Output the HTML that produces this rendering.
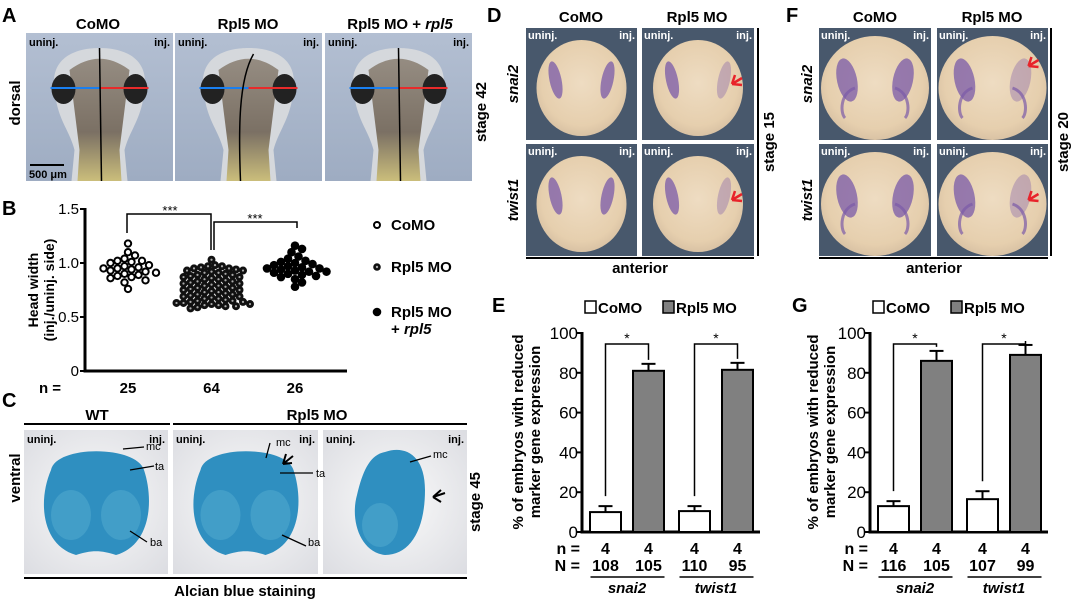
<!DOCTYPE html>
<html><head><meta charset="utf-8"><style>
html,body{margin:0;padding:0;background:#fff;}
svg{display:block;font-family:"Liberation Sans",Arial,sans-serif;}
.b{font-weight:bold;}
</style></head><body>
<svg id="fig" width="1072" height="599" viewBox="0 0 1072 599" xmlns="http://www.w3.org/2000/svg">
<defs>
<radialGradient id="embD" cx="50%" cy="45%" r="55%"><stop offset="0" stop-color="#eedcc2"/><stop offset="0.8" stop-color="#e6cfae"/><stop offset="1" stop-color="#d9c2a4"/></radialGradient>
<linearGradient id="tadBg" x1="0" y1="0" x2="0" y2="1"><stop offset="0" stop-color="#b3bfd2"/><stop offset="1" stop-color="#9eacc2"/></linearGradient>
<radialGradient id="cBg" cx="50%" cy="50%" r="70%"><stop offset="0" stop-color="#fafafa"/><stop offset="1" stop-color="#dcdde2"/></radialGradient>
<linearGradient id="body" x1="0" y1="0" x2="0" y2="1"><stop offset="0" stop-color="#8a7f72"/><stop offset="0.6" stop-color="#6b5e4f"/><stop offset="1" stop-color="#c9b96a"/></linearGradient>
</defs>

<g>
<text class="b" x="2" y="22" font-size="20">A</text>
<text class="b" x="98" y="29" font-size="15" text-anchor="middle">CoMO</text>
<text class="b" x="248" y="29" font-size="15" text-anchor="middle">Rpl5 MO</text>
<text class="b" x="400" y="29" font-size="15" text-anchor="middle">Rpl5 MO + <tspan font-style="italic">rpl5</tspan></text>
<text class="b" x="20" y="103" font-size="15" text-anchor="middle" transform="rotate(-90 20 103)">dorsal</text>
<text class="b" x="486" y="112" font-size="15" text-anchor="middle" transform="rotate(-90 486 112)">stage 42</text>
<g id="aPhotos"></g>
</g>

<g>
<text class="b" x="2" y="215" font-size="20">B</text>
<g id="bChart"></g>
</g>

<g>
<text class="b" x="2" y="407" font-size="20">C</text>
<text class="b" x="97" y="420" font-size="15" text-anchor="middle">WT</text>
<text class="b" x="317" y="420" font-size="15" text-anchor="middle">Rpl5 MO</text>
<line x1="24" y1="424" x2="170" y2="424" stroke="#000" stroke-width="2"/>
<line x1="173" y1="424" x2="467" y2="424" stroke="#000" stroke-width="2"/>
<line x1="24" y1="578" x2="467" y2="578" stroke="#000" stroke-width="2"/>
<text class="b" x="245" y="596" font-size="15" text-anchor="middle">Alcian blue staining</text>
<text class="b" x="20" y="478" font-size="15" text-anchor="middle" transform="rotate(-90 20 478)">ventral</text>
<text class="b" x="480" y="502" font-size="15" text-anchor="middle" transform="rotate(-90 480 502)">stage 45</text>
<g id="cPhotos"></g>
</g>

<g>
<text class="b" x="487" y="22" font-size="20">D</text>
<text class="b" x="581" y="22" font-size="15" text-anchor="middle">CoMO</text>
<text class="b" x="697" y="22" font-size="15" text-anchor="middle">Rpl5 MO</text>
<text class="b" x="640" y="273" font-size="15" text-anchor="middle">anterior</text>
<line x1="526" y1="258" x2="754" y2="258" stroke="#000" stroke-width="2"/>
<line x1="758" y1="28" x2="758" y2="256" stroke="#000" stroke-width="2"/>
<text class="b" x="774" y="142" font-size="15" text-anchor="middle" transform="rotate(-90 774 142)">stage 15</text>
<text class="b" x="518" y="84" font-size="15" text-anchor="middle" font-style="italic" transform="rotate(-90 518 84)">snai2</text>
<text class="b" x="518" y="200" font-size="15" text-anchor="middle" font-style="italic" transform="rotate(-90 518 200)">twist1</text>
</g>
<g>
<text class="b" x="786" y="22" font-size="20">F</text>
<text class="b" x="875" y="22" font-size="15" text-anchor="middle">CoMO</text>
<text class="b" x="992" y="22" font-size="15" text-anchor="middle">Rpl5 MO</text>
<text class="b" x="934" y="273" font-size="15" text-anchor="middle">anterior</text>
<line x1="819" y1="258" x2="1048" y2="258" stroke="#000" stroke-width="2"/>
<line x1="1051" y1="28" x2="1051" y2="256" stroke="#000" stroke-width="2"/>
<text class="b" x="1068" y="142" font-size="15" text-anchor="middle" transform="rotate(-90 1068 142)">stage 20</text>
<text class="b" x="812" y="84" font-size="15" text-anchor="middle" font-style="italic" transform="rotate(-90 812 84)">snai2</text>
<text class="b" x="812" y="200" font-size="15" text-anchor="middle" font-style="italic" transform="rotate(-90 812 200)">twist1</text>
</g>
<g id="dfPhotos"></g>

<text class="b" x="492" y="312" font-size="20">E</text>
<text class="b" x="792" y="312" font-size="20">G</text>
<g id="eChart"></g>
<g id="gChart"></g>
</svg>

<script>
// ---------- Panel B data (head width ratio) ----------
const bGroups = ["CoMO", "Rpl5 MO", "Rpl5 MO + rpl5"];
const bCounts = ["25", "64", "26"];
const bYTicks = [0, 0.5, 1.0, 1.5];
const bYTickLabels = ["0", "0.5", "1.0", "1.5"];
const bCoMO = [1.18,1.10,1.07,1.04,1.02,1.02,1.01,1.00,0.98,0.97,0.96,0.95,0.95,0.94,0.93,0.92,0.91,0.90,0.89,0.88,0.87,0.86,0.84,0.82,0.76];
const bRpl5 = [1.03,0.98,0.97,0.97,0.96,0.95,0.95,0.94,0.93,0.93,0.92,0.91,0.91,0.90,0.89,0.89,0.88,0.87,0.87,0.86,0.85,0.85,0.84,0.83,0.83,0.82,0.81,0.81,0.80,0.79,0.79,0.78,0.77,0.77,0.76,0.75,0.75,0.74,0.73,0.73,0.72,0.71,0.71,0.70,0.69,0.69,0.68,0.67,0.67,0.66,0.65,0.65,0.64,0.64,0.63,0.63,0.62,0.62,0.61,0.61,0.60,0.60,0.59,0.58];
const bRescue = [1.16,1.13,1.10,1.06,1.04,1.02,1.01,1.00,0.99,0.98,0.97,0.96,0.95,0.95,0.94,0.93,0.92,0.92,0.91,0.90,0.89,0.88,0.87,0.85,0.82,0.78];

// ---------- Panel E data ----------
const eGenes = ["snai2", "twist1"];
const eCoMO = [10, 10.5];
const eCoMOErr = [3, 2.5];
const eRpl5 = [81, 81.5];
const eRpl5Err = [3.5, 3.5];
const eNn = ["4","4","4","4"];
const eNN = ["108","105","110","95"];
// ---------- Panel G data ----------
const gGenes = ["snai2", "twist1"];
const gCoMO = [13, 16.5];
const gCoMOErr = [2.5, 4];
const gRpl5 = [86, 89];
const gRpl5Err = [5, 5];
const gNn = ["4","4","4","4"];
const gNN = ["116","105","107","99"];
const pctTicks = [0, 20, 40, 60, 80, 100];

const NS = "http://www.w3.org/2000/svg";
function mk(tag, attrs, parent, txt) {
  const e = document.createElementNS(NS, tag);
  for (const k in attrs) e.setAttribute(k, attrs[k]);
  if (txt !== undefined) e.textContent = txt;
  parent.appendChild(e);
  return e;
}

(function(){
  const g = document.getElementById('aPhotos');
  const xs = [26, 175, 325], w = [147, 147, 147];
  const curve = [false, true, false];
  xs.forEach((x, i) => {
    const ph = mk('g', {}, g);
    
    
    mk('rect', {x:x, y:33, width:w[i], height:148, fill:'url(#tadBg)'}, ph);
    const cx = x + w[i]/2;
    mk('path', {d:`M${cx-45},${90} C${cx-50},${55} ${cx-20},${48} ${cx},${48} C${cx+20},${48} ${cx+50},${55} ${cx+45},${90} C${cx+42},${120} ${cx+30},${130} ${cx+25},${150} L${cx+28},${181} L${cx-28},${181} L${cx-25},${150} C${cx-30},${130} ${cx-42},${120} ${cx-45},${90} Z`, fill:'#d5d8dc'}, ph);
    mk('path', {d:`M${cx-30},${70} C${cx-10},${55} ${cx+10},${55} ${cx+30},${70} L${cx+20},${150} L${cx+22},${181} L${cx-22},${181} L${cx-20},${150} Z`, fill:'url(#body)', opacity:0.85}, ph);
    mk('ellipse', {cx:cx-36, cy:89, rx:12, ry:15, fill:'#222'}, ph);
    mk('ellipse', {cx:cx+36, cy:89, rx:12, ry:15, fill:'#222'}, ph);
    mk('line', {x1:cx-49, y1:88, x2:cx, y2:88, stroke:'#1a7ff0', 'stroke-width':2}, ph);
    mk('line', {x1:cx, y1:88, x2:cx+49, y2:88, stroke:'#e82a2a', 'stroke-width':2}, ph);
    if (curve[i]) mk('path', {d:`M${cx+5},54 C${cx-10},80 ${cx-10},130 ${cx-8},181`, stroke:'#000', 'stroke-width':1.5, fill:'none'}, ph);
    else mk('line', {x1:cx, y1:48, x2:cx+2, y2:181, stroke:'#000', 'stroke-width':1.5}, ph);
    mk('text', {x:x+3, y:46, 'font-size':11, 'font-weight':'bold'}, ph, 'uninj.');
    mk('text', {x:x+w[i]-3, y:46, 'font-size':11, 'font-weight':'bold', 'text-anchor':'end'}, ph, 'inj.');
  });
  mk('line', {x1:30, y1:165, x2:64, y2:165, stroke:'#000', 'stroke-width':2}, g);
  const sb = mk('text', {x:29, y:178, 'font-size':11, 'font-weight':'bold'}, g, '500 μm');
  
  
})();

(function(){
  const g = document.getElementById('cPhotos');
  const xs = [24, 173, 323], ws = [144, 145, 144];
  xs.forEach((x, i) => {
    const ph = mk('g', {}, g);
    
    
    mk('rect', {x:x, y:430, width:ws[i], height:144, fill:'url(#cBg)'}, ph);
    const cx = x + ws[i]/2;
    if (i < 2) {
      mk('path', {d:`M${cx-45},${470} C${cx-40},${445} ${cx+40},${445} ${cx+48},${470} C${cx+58},${500} ${cx+55},${545} ${cx+20},${555} C${cx+5},${550} ${cx-5},${550} ${cx-20},${555} C${cx-55},${545} ${cx-58},${500} ${cx-45},${470} Z`, fill:'#2f8fc0'}, ph);
      mk('ellipse', {cx:cx-25, cy:515, rx:20, ry:25, fill:'#4aa4cc', opacity:0.7}, ph);
      mk('ellipse', {cx:cx+25, cy:515, rx:20, ry:25, fill:'#4aa4cc', opacity:0.7}, ph);
    } else {
      mk('path', {d:`M${cx-10},${452} C${cx+10},${445} ${cx+30},${455} ${cx+30},${490} C${cx+30},${530} ${cx+15},${555} ${cx-10},${555} C${cx-35},${552} ${cx-45},${520} ${cx-38},${495} C${cx-32},${470} ${cx-25},${455} ${cx-10},${452} Z`, fill:'#2f8fc0'}, ph);
      mk('ellipse', {cx:cx-15, cy:525, rx:18, ry:22, fill:'#4aa4cc', opacity:0.7}, ph);
    }
    mk('text', {x:x+3, y:443, 'font-size':11, 'font-weight':'bold'}, ph, 'uninj.');
    mk('text', {x:x+ws[i]-3, y:443, 'font-size':11, 'font-weight':'bold', 'text-anchor':'end'}, ph, 'inj.');
  });
  const lab = [[146,450,'mc'],[155,470,'ta'],[150,546,'ba'],[276,446,'mc'],[316,477,'ta'],[308,546,'ba'],[433,458,'mc']];
  lab.forEach(l => mk('text', {x:l[0], y:l[1], 'font-size':11}, g, l[2]));
  [[123,449,144,447],[130,470,154,466],[130,531,147,542],[270,443,266,458],[280,473,313,473],[282,535,306,546],[410,462,431,456]].forEach(s=>mk('line',{x1:s[0],y1:s[1],x2:s[2],y2:s[3],stroke:'#000','stroke-width':1.3},g));
  mk('path', {d:'M283,464 l10,-8 M283,464 l3,-10 M283,464 l9,-1', stroke:'#000', 'stroke-width':2, fill:'none'}, g);
  mk('path', {d:'M433,497 l12,-4 M433,497 l8,-7 M433,497 l8,5', stroke:'#000', 'stroke-width':2, fill:'none'}, g);
})();

(function(){
  const g = document.getElementById('dfPhotos');
  const cols = [[526,111],[642,112],[819,112],[937,111]];
  const rows = [[28,112],[144,112]];
  cols.forEach((c, ci) => rows.forEach((r, ri) => {
    const ph = mk('g', {}, g);
    
    
    mk('rect', {x:c[0], y:r[0], width:c[1], height:r[1], fill:'#48586c'}, ph);
    const cx = c[0]+c[1]/2, cy = r[0]+r[1]/2+4;
    const big = ci >= 2;
    mk('ellipse', {cx:cx, cy:cy, rx:big?54:45, ry:big?52:48, fill:'url(#embD)'}, ph);
    const s = big ? 28 : 26;
    const reduced = (ci===1 || ci===3);
    mk('ellipse', {cx:cx-s, cy:cy-8, rx:big?10:6, ry:big?22:19, fill:'#7a5aa8', opacity:0.75, transform:`rotate(-12 ${cx-s} ${cy-8})`}, ph);
    mk('ellipse', {cx:cx+s, cy:cy-8, rx:big?10:6, ry:big?22:19, fill:'#7a5aa8', opacity:reduced?0.35:0.75, transform:`rotate(12 ${cx+s} ${cy-8})`}, ph);
    if (big) {
      mk('path', {d:`M${cx-20},${cy} C${cx-35},${cy+5} ${cx-35},${cy+25} ${cx-30},${cy+30} M${cx+20},${cy} C${cx+35},${cy+5} ${cx+35},${cy+25} ${cx+30},${cy+30}`, stroke:'#7a5aa8', 'stroke-width':3, fill:'none', opacity:0.7}, ph);
    }
    if (reduced) {
      const ax = cx + s + 8, ay = cy - (ci===3 && ri===0 ? 22 : 4);
      mk('path', {d:`M${ax},${ay} l10,-6 M${ax},${ay} l3,-9 M${ax},${ay} l10,1`, stroke:'#e8232a', 'stroke-width':2.5, fill:'none'}, ph);
    }
    mk('text', {x:c[0]+2, y:r[0]+11, 'font-size':11, 'font-weight':'bold', fill:'#fff'}, ph, 'uninj.');
    mk('text', {x:c[0]+c[1]-2, y:r[0]+11, 'font-size':11, 'font-weight':'bold', fill:'#fff', 'text-anchor':'end'}, ph, 'inj.');
  }));
})();

// ---------- Panel B chart ----------
(function(){
  const g = document.getElementById('bChart');
  const x0 = 85, x1 = 347;
  const yS = v => 371 - v * 108;
  const groupX = i => 128 + i * 83.5;
  mk('line', {x1:x0, y1:yS(1.5)-1, x2:x0, y2:yS(0)+1.5, stroke:'#000', 'stroke-width':3}, g);
  mk('line', {x1:x0-1.5, y1:yS(0), x2:x1, y2:yS(0), stroke:'#000', 'stroke-width':3}, g);
  bYTicks.forEach((t, i) => {
    mk('line', {x1:x0-5, y1:yS(t), x2:x0, y2:yS(t), stroke:'#000', 'stroke-width':2}, g);
    const tl = mk('text', {x:x0-6, y:yS(t)+5, 'font-size':15, 'text-anchor':'end'}, g, bYTickLabels[i]);
    
    
  });
  const yt = mk('text', {'font-size':14, 'font-weight':'bold', 'text-anchor':'middle', transform:'translate(38 290) rotate(-90)'}, g);
  
  
  mk('tspan', {x:0, y:0}, yt, 'Head width');
  mk('tspan', {x:0, y:16}, yt, '(inj./uninj. side)');
  const nl = mk('text', {x:50, y:393, 'font-size':15, 'font-weight':'bold', 'text-anchor':'middle'}, g, 'n =');
  
  
  bCounts.forEach((c, i) => {
    const t = mk('text', {x:groupX(i), y:393, 'font-size':15, 'font-weight':'bold', 'text-anchor':'middle'}, g, c);
    
    
  });
  const series = [bCoMO, bRpl5, bRescue];
  const r = 4;
  const minD = [7.2, 6.2, 7.2];
  series.forEach((vals, gi) => {
    const placed = [];
    vals.forEach(v => {
      const py = yS(v);
      let k = 0, px;
      while (k < 40) {
        const off = k === 0 ? 0 : (k % 2 ? 1 : -1) * Math.ceil(k / 2) * 3.5;
        px = groupX(gi) + off;
        if (!placed.some(p => Math.hypot(p[0]-px, p[1]-py) < minD[gi])) break;
        k++;
      }
      placed.push([px, py]);
      let c;
      if (gi === 0) c = mk('circle', {cx:px, cy:py, r:3.2, fill:'#fff', stroke:'#000', 'stroke-width':2}, g);
      else if (gi === 1) { c = mk('circle', {cx:px, cy:py, r:r, fill:'#111'}, g); mk('circle', {cx:px, cy:py, r:1.1, fill:'#aaa'}, g); }
      else c = mk('circle', {cx:px, cy:py, r:r+0.3, fill:'#000'}, g);
      
      
    });
  });
  mk('path', {d:`M127,233 V214 H211 V250`, stroke:'#000', 'stroke-width':1.5, fill:'none'}, g);
  mk('text', {x:170, y:215, 'font-size':13, 'text-anchor':'middle'}, g, '***');
  mk('path', {d:`M214,250 V222 H297 V228`, stroke:'#000', 'stroke-width':1.5, fill:'none'}, g);
  mk('text', {x:255, y:223, 'font-size':13, 'text-anchor':'middle'}, g, '***');
  const lg = [[230,0,'CoMO'],[272,1,'Rpl5 MO'],[317,2,'Rpl5 MO']];
  lg.forEach(l => {
    if (l[1]===0) mk('circle', {cx:377, cy:l[0]-5, r:3, fill:'#fff', stroke:'#000', 'stroke-width':2}, g);
    else if (l[1]===1) { mk('circle', {cx:377, cy:l[0]-5, r:3.8, fill:'#111'}, g); mk('circle', {cx:377, cy:l[0]-5, r:1.2, fill:'#aaa'}, g); }
    else mk('circle', {cx:377, cy:l[0]-5, r:4.3, fill:'#000'}, g);
    const t = mk('text', {x:391, y:l[0], 'font-size':15, 'font-weight':'bold'}, g, l[2]);
    
    
  });
  const t2 = mk('text', {x:391, y:334, 'font-size':15, 'font-weight':'bold'}, g, '+ ');
  mk('tspan', {'font-style':'italic'}, t2, 'rpl5');
})();

// ---------- Bar charts E & G ----------
function barChart(id, ax, genes, como, comoErr, rpl, rplErr, nn, NN, titleX) {
  const g = document.getElementById(id);
  const yS = v => 532 - v * 1.99;
  const xEnd = ax + 178;
  const pairX = i => ax + 23.5 + i * 89;
  const bw = 31, gap = 43;
  mk('line', {x1:ax, y1:yS(100)-1, x2:ax, y2:yS(0)+1.5, stroke:'#000', 'stroke-width':3}, g);
  mk('line', {x1:ax-1.5, y1:yS(0), x2:xEnd, y2:yS(0), stroke:'#000', 'stroke-width':3}, g);
  pctTicks.forEach(t => {
    mk('line', {x1:ax-5, y1:yS(t), x2:ax, y2:yS(t), stroke:'#000', 'stroke-width':2}, g);
    const tl = mk('text', {x:ax-4, y:yS(t)+6, 'font-size':17, 'text-anchor':'end'}, g, String(t));
    
    
  });
  const yt = mk('text', {'font-size':15, 'font-weight':'bold', 'text-anchor':'middle', transform:`translate(${titleX} 432) rotate(-90)`}, g);
  
  
  mk('tspan', {x:0, y:0}, yt, '% of embryos with reduced');
  mk('tspan', {x:0, y:17}, yt, 'marker gene expression');
  const lb1 = mk('rect', {x:ax+3, y:301, width:11, height:12, fill:'#fff', stroke:'#000', 'stroke-width':1.5}, g);
  
  
  mk('text', {x:ax+16, y:313, 'font-size':15, 'font-weight':'bold'}, g, 'CoMO');
  const lb2 = mk('rect', {x:ax+81, y:301, width:11, height:12, fill:'#808080', stroke:'#000', 'stroke-width':1.5}, g);
  
  
  mk('text', {x:ax+94, y:313, 'font-size':15, 'font-weight':'bold'}, g, 'Rpl5 MO');
  mk('text', {x:ax-2, y:554, 'font-size':16, 'font-weight':'bold', 'text-anchor':'end'}, g, 'n =');
  mk('text', {x:ax-2, y:571, 'font-size':16, 'font-weight':'bold', 'text-anchor':'end'}, g, 'N =');
  genes.forEach((gene, i) => {
    const cA = pairX(i), cB = pairX(i) + gap;
    [[cA, como[i], comoErr[i], '#fff', 'bar-como-'], [cB, rpl[i], rplErr[i], '#808080', 'bar-rpl5-']].forEach((b, j) => {
      const r = mk('rect', {x:b[0]-bw/2, y:yS(b[1]), width:bw, height:yS(0)-yS(b[1]), fill:b[3], stroke:'#000', 'stroke-width':2}, g);
      
      
      mk('line', {x1:b[0], y1:yS(b[1]), x2:b[0], y2:yS(b[1]+b[2]), stroke:'#000', 'stroke-width':2}, g);
      mk('line', {x1:b[0]-7, y1:yS(b[1]+b[2]), x2:b[0]+7, y2:yS(b[1]+b[2]), stroke:'#000', 'stroke-width':2}, g);
      mk('text', {x:b[0], y:554, 'font-size':16, 'font-weight':'bold', 'text-anchor':'middle'}, g, nn[i*2+j]);
      mk('text', {x:b[0], y:571, 'font-size':16, 'font-weight':'bold', 'text-anchor':'middle'}, g, NN[i*2+j]);
    });
    const topY = 344;
    mk('path', {d:`M${cA},${yS(como[i]+comoErr[i])-10} V${topY} H${cB} V${yS(rpl[i]+rplErr[i])-4}`, stroke:'#000', 'stroke-width':1.5, fill:'none'}, g);
    mk('text', {x:(cA+cB)/2, y:topY-1, 'font-size':14, 'text-anchor':'middle'}, g, '*');
    mk('line', {x1:cA-15, y1:577, x2:cB+16, y2:577, stroke:'#000', 'stroke-width':1.5}, g);
    const gl = mk('text', {x:(cA+cB)/2, y:593, 'font-size':15, 'font-weight':'bold', 'font-style':'italic', 'text-anchor':'middle'}, g, gene);
    
    
  });
}
barChart('eChart', 582, eGenes, eCoMO, eCoMOErr, eRpl5, eRpl5Err, eNn, eNN, 523);
barChart('gChart', 870, gGenes, gCoMO, gCoMOErr, gRpl5, gRpl5Err, gNn, gNN, 818);
</script>
</body></html>
